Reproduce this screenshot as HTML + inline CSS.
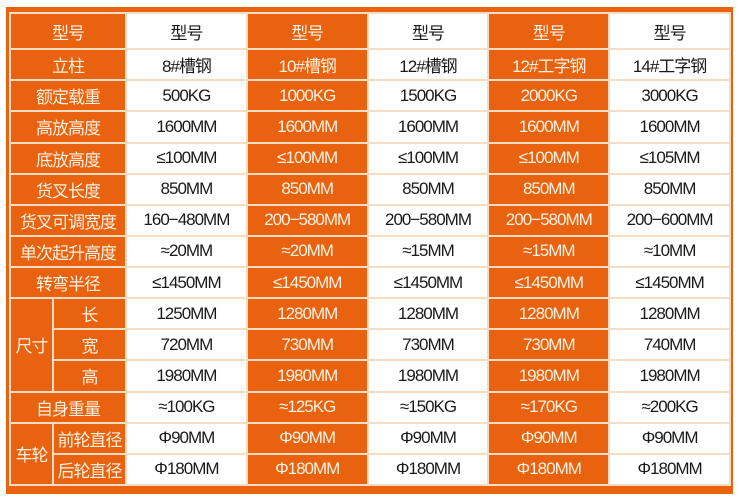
<!DOCTYPE html>
<html><head><meta charset="utf-8">
<style>
body{margin:0;width:739px;height:500px;background:#fff;overflow:hidden;font-family:"Liberation Sans","Noto Sans CJK SC",sans-serif}
#frame{position:absolute;left:6px;top:7px;width:727px;height:487px;background:#e8620f}
table{position:absolute;left:9px;top:12px;width:722px;height:474px;border-collapse:separate;border-spacing:2px;background:#f6dcc2;table-layout:fixed}
td{text-align:center;font-size:17px;letter-spacing:-1px;padding:0;height:29px}
td.o{background:#e8620f;color:#fdf1e2}
td.w{background:#fff;color:#1a1a1a}
tr.h td{height:34px}
</style></head><body>
<div id="frame"></div>
<table>
<colgroup><col style="width:41px"><col style="width:71px"><col><col><col><col><col></colgroup>
<tr class="h"><td class="o" colspan="2">型号</td><td class="w">型号</td><td class="o">型号</td><td class="w">型号</td><td class="o">型号</td><td class="w">型号</td></tr>
<tr><td class="o" colspan="2">立柱</td><td class="w">8#槽钢</td><td class="o">10#槽钢</td><td class="w">12#槽钢</td><td class="o">12#工字钢</td><td class="w">14#工字钢</td></tr>
<tr><td class="o" colspan="2">额定载重</td><td class="w">500KG</td><td class="o">1000KG</td><td class="w">1500KG</td><td class="o">2000KG</td><td class="w">3000KG</td></tr>
<tr><td class="o" colspan="2">高放高度</td><td class="w">1600MM</td><td class="o">1600MM</td><td class="w">1600MM</td><td class="o">1600MM</td><td class="w">1600MM</td></tr>
<tr><td class="o" colspan="2">底放高度</td><td class="w">≤100MM</td><td class="o">≤100MM</td><td class="w">≤100MM</td><td class="o">≤100MM</td><td class="w">≤105MM</td></tr>
<tr><td class="o" colspan="2">货叉长度</td><td class="w">850MM</td><td class="o">850MM</td><td class="w">850MM</td><td class="o">850MM</td><td class="w">850MM</td></tr>
<tr><td class="o" colspan="2">货叉可调宽度</td><td class="w">160−480MM</td><td class="o">200−580MM</td><td class="w">200−580MM</td><td class="o">200−580MM</td><td class="w">200−600MM</td></tr>
<tr><td class="o" colspan="2">单次起升高度</td><td class="w">≈20MM</td><td class="o">≈20MM</td><td class="w">≈15MM</td><td class="o">≈15MM</td><td class="w">≈10MM</td></tr>
<tr><td class="o" colspan="2">转弯半径</td><td class="w">≤1450MM</td><td class="o">≤1450MM</td><td class="w">≤1450MM</td><td class="o">≤1450MM</td><td class="w">≤1450MM</td></tr>
<tr><td class="o" rowspan="3">尺寸</td><td class="o">长</td><td class="w">1250MM</td><td class="o">1280MM</td><td class="w">1280MM</td><td class="o">1280MM</td><td class="w">1280MM</td></tr>
<tr><td class="o">宽</td><td class="w">720MM</td><td class="o">730MM</td><td class="w">730MM</td><td class="o">730MM</td><td class="w">740MM</td></tr>
<tr><td class="o">高</td><td class="w">1980MM</td><td class="o">1980MM</td><td class="w">1980MM</td><td class="o">1980MM</td><td class="w">1980MM</td></tr>
<tr><td class="o" colspan="2">自身重量</td><td class="w">≈100KG</td><td class="o">≈125KG</td><td class="w">≈150KG</td><td class="o">≈170KG</td><td class="w">≈200KG</td></tr>
<tr><td class="o" rowspan="2">车轮</td><td class="o">前轮直径</td><td class="w">Φ90MM</td><td class="o">Φ90MM</td><td class="w">Φ90MM</td><td class="o">Φ90MM</td><td class="w">Φ90MM</td></tr>
<tr><td class="o">后轮直径</td><td class="w">Φ180MM</td><td class="o">Φ180MM</td><td class="w">Φ180MM</td><td class="o">Φ180MM</td><td class="w">Φ180MM</td></tr>
</table>
</body></html>
